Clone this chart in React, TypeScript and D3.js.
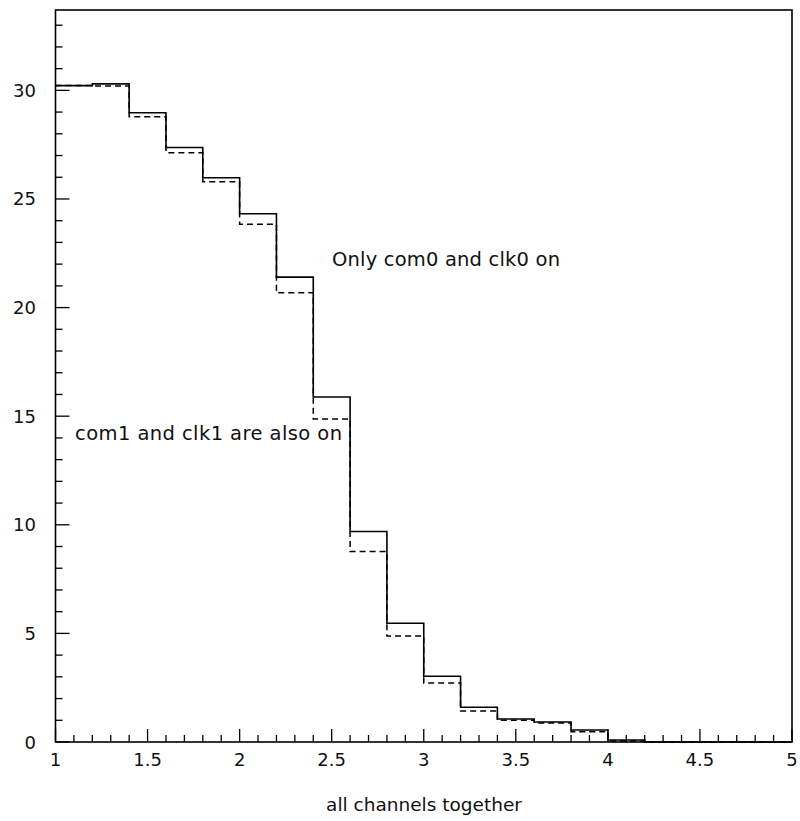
import * as d3 from "d3";

const W = 800;
const H = 821;
const left = 55.5;
const right = 792;
const top = 10;
const bottom = 742;

// bin lower edges, width 0.2
const binEdges = [1, 1.2, 1.4, 1.6, 1.8, 2, 2.2, 2.4, 2.6, 2.8, 3, 3.2, 3.4, 3.6, 3.8, 4, 4.2, 4.4, 4.6, 4.8];
const allOn = [30.22, 30.3, 28.97, 27.37, 25.98, 24.32, 21.4, 15.88, 9.69, 5.47, 3.03, 1.6, 1.06, 0.92, 0.55, 0.09, 0, 0, 0, 0];
const onlyCom0 = [30.22, 30.2, 28.78, 27.13, 25.79, 23.84, 20.68, 14.87, 8.77, 4.88, 2.72, 1.43, 1.0, 0.88, 0.47, 0.05, 0, 0, 0, 0];
const xTickLabels = [1, 1.5, 2, 2.5, 3, 3.5, 4, 4.5, 5];
const yTickLabels = [0, 5, 10, 15, 20, 25, 30];

const x = d3.scaleLinear().domain([1, 5]).range([left, right]);
const y = d3.scaleLinear().domain([0, 33.7]).range([bottom, top]);

const step = d3
  .line<[number, number]>()
  .x((d) => x(d[0]))
  .y((d) => y(d[1]))
  .curve(d3.curveStepAfter);

function pts(vals: number[]): [number, number][] {
  const p: [number, number][] = binEdges.map((e, i) => [e, vals[i]]);
  p.push([5, vals[vals.length - 1]]);
  return p;
}

const font = "DejaVu Sans, sans-serif";

export default function App() {
  const xMinor = d3.range(10, 51).map((v) => v / 10);
  const yMinor = d3.range(0, 34);
  return (
    <svg
      width={W}
      height={H}
      style={{ position: "absolute", left: 0, top: 0, background: "white" }}
    >
      <rect x={0} y={0} width={W} height={H} fill="white" />

      <path d={step(pts(onlyCom0)) || ""} fill="none" stroke="black" strokeWidth={1.5} strokeDasharray="6,4" />
      <path d={step(pts(allOn)) || ""} fill="none" stroke="black" strokeWidth={1.6} />

      {/* frame */}
      <rect x={left} y={top} width={right - left} height={bottom - top} fill="none" stroke="black" strokeWidth={1.6} />

      {/* x ticks */}
      {xMinor.map((v, i) => {
        const major = i % 5 === 0;
        return (
          <line key={"xt" + i} x1={x(v)} x2={x(v)} y1={bottom} y2={bottom - (major ? 13 : 7)} stroke="black" strokeWidth={1.3} />
        );
      })}
      {xTickLabels.map((v) => (
        <text key={"xl" + v} x={x(v)} y={766} textAnchor="middle" fontFamily={font} fontSize={18} fill="#111">
          {d3.format("~g")(v)}
        </text>
      ))}

      {/* y ticks */}
      {yMinor.map((v) => {
        const major = v % 5 === 0;
        return (
          <line key={"yt" + v} x1={left} x2={left + (major ? 14 : 7)} y1={y(v)} y2={y(v)} stroke="black" strokeWidth={1.3} />
        );
      })}
      {yTickLabels.map((v) => (
        <text key={"yl" + v} x={36} y={y(v) + 6.5} textAnchor="end" fontFamily={font} fontSize={18} fill="#111">
          {v}
        </text>
      ))}

      <text x={424} y={811} textAnchor="middle" fontFamily={font} fontSize={18.5} fill="#111">
        all channels together
      </text>
      <text x={332} y={266} fontFamily={font} fontSize={19.5} fill="#111" textLength={228}>
        Only com0 and clk0 on
      </text>
      <text x={75} y={440} fontFamily={font} fontSize={19.5} fill="#111" textLength={267}>
        com1 and clk1 are also on
      </text>
    </svg>
  );
}
